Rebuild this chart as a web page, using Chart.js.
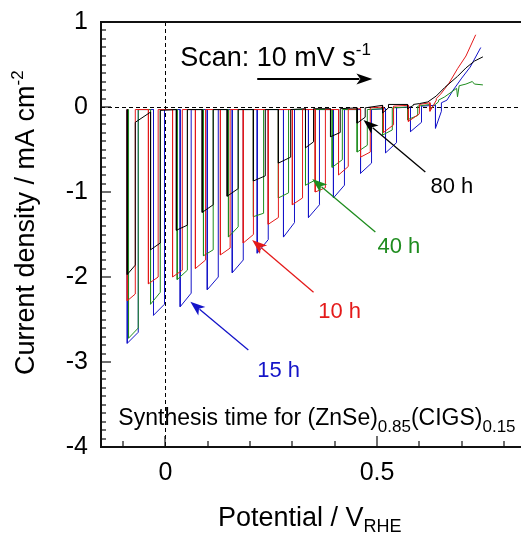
<!DOCTYPE html>
<html><head><meta charset="utf-8">
<script src="https://cdn.jsdelivr.net/npm/chart.js@4"></script>
<style>html,body{margin:0;padding:0;background:#fff;} #wrap{width:521px;height:534px;}</style>
</head><body><div id="wrap"><canvas id="c" width="521" height="534"></canvas></div>
<script>
// ---- tick labels ----
const xTickValues = [0, 0.5];
const yTickValues = [-4, -3, -2, -1, 0, 1];

// ---- 80 h (black): chopped-light segments ----
const h80_on   = [-0.090, -0.035, 0.026, 0.087, 0.146, 0.208, 0.267, 0.331, 0.390, 0.453, 0.513, 0.572];
const h80_off  = [-0.071, -0.012, 0.052, 0.113, 0.172, 0.236, 0.296, 0.350, 0.413, 0.472, 0.527, 0.586];
const h80_jOn  = [-1.97, -1.68, -1.45, -1.24, -1.05, -0.87, -0.66, -0.48, -0.35, -0.19, -0.07, -0.02];
const h80_jOff = [-1.86, -1.60, -1.39, -1.15, -0.96, -0.81, -0.59, -0.41, -0.30, -0.12, -0.01, 0.02];
const h80_dBefore = [-0.03, -0.06, -0.03, -0.03, -0.03, -0.03, -0.03, -0.02, -0.02, -0.01, 0.02, 0.03];
const h80_dAfter  = [-0.18, -0.04, -0.03, -0.03, -0.03, -0.03, -0.03, -0.02, -0.02, -0.01, 0.03, 0.03];
const h80_tailE = [0.60, 0.62, 0.64, 0.66, 0.69, 0.71, 0.73, 0.75];
const h80_tailJ = [0.04, 0.06, 0.13, 0.23, 0.36, 0.46, 0.54, 0.59];

// ---- 10 h (red) ----
const h10_on   = [-0.090, -0.040, 0.017, 0.071, 0.130, 0.184, 0.243, 0.300, 0.354, 0.409, 0.461, 0.515, 0.574, 0.625];
const h10_off  = [-0.071, -0.017, 0.040, 0.095, 0.153, 0.208, 0.267, 0.324, 0.378, 0.432, 0.484, 0.539, 0.600, 0.640];
const h10_jOn  = [-2.28, -2.08, -2.00, -1.90, -1.74, -1.60, -1.38, -1.15, -1.00, -0.80, -0.59, -0.30, -0.17, -0.05];
const h10_jOff = [-2.20, -2.00, -1.92, -1.80, -1.66, -1.50, -1.30, -1.07, -0.95, -0.70, -0.53, -0.21, -0.08, 0.08];
const h10_dBefore = [-0.03, -0.03, -0.03, -0.03, -0.03, -0.03, -0.03, -0.03, -0.03, -0.03, -0.02, 0.00, 0.02, 0.05];
const h10_dAfter  = [-0.03, -0.03, -0.03, -0.03, -0.03, -0.03, -0.03, -0.03, -0.03, -0.03, -0.01, 0.01, 0.03, 0.10];
const h10_tailE = [0.65, 0.67, 0.69, 0.71, 0.733];
const h10_tailJ = [0.15, 0.28, 0.45, 0.60, 0.85];

// ---- 40 h (green) ----
const h40_on   = [-0.087, -0.035, 0.028, 0.090, 0.149, 0.208, 0.267, 0.331, 0.394, 0.453, 0.513, 0.572, 0.625];
const h40_off  = [-0.064, -0.012, 0.052, 0.113, 0.172, 0.232, 0.291, 0.354, 0.418, 0.477, 0.536, 0.596, 0.645];
const h40_jOn  = [-2.72, -2.32, -2.03, -1.75, -1.53, -1.29, -1.07, -0.92, -0.71, -0.53, -0.33, -0.15, -0.02];
const h40_jOff = [-2.60, -2.18, -1.92, -1.68, -1.41, -1.25, -1.01, -0.86, -0.62, -0.45, -0.27, -0.10, 0.06];
const h40_dBefore = [-0.03, -0.03, -0.03, -0.03, -0.03, -0.03, -0.03, -0.03, -0.03, -0.03, -0.02, 0.00, 0.03];
const h40_dAfter  = [-0.03, -0.03, -0.03, -0.03, -0.03, -0.03, -0.03, -0.03, -0.03, -0.03, -0.01, 0.01, 0.08];
const h40_tailE = [0.66, 0.688, 0.69, 0.694, 0.71, 0.725, 0.73, 0.75];
const h40_tailJ = [0.12, 0.22, 0.12, 0.25, 0.27, 0.30, 0.27, 0.26];

// ---- 15 h (blue) ----
const h15_on   = [-0.090, -0.028, 0.035, 0.099, 0.158, 0.217, 0.279, 0.338, 0.397, 0.461, 0.520, 0.579, 0.638];
const h15_off  = [-0.064, -0.002, 0.061, 0.125, 0.184, 0.243, 0.305, 0.364, 0.423, 0.487, 0.546, 0.605, 0.652];
const h15_jOn  = [-2.78, -2.45, -2.35, -2.15, -1.95, -1.72, -1.53, -1.30, -1.07, -0.78, -0.54, -0.29, -0.25];
const h15_jOff = [-2.65, -2.32, -2.19, -2.00, -1.80, -1.56, -1.36, -1.15, -0.92, -0.66, -0.42, -0.18, -0.05];
const h15_dBefore = [-0.03, -0.03, -0.03, -0.03, -0.03, -0.03, -0.03, -0.03, -0.03, -0.03, -0.02, 0.00, 0.02];
const h15_dAfter  = [-0.03, -0.03, -0.03, -0.03, -0.03, -0.03, -0.03, -0.03, -0.03, -0.03, -0.01, 0.01, 0.05];
const h15_tailE = [0.665, 0.68, 0.70, 0.72, 0.745];
const h15_tailJ = [0.08, 0.20, 0.34, 0.47, 0.70];

function build(on, off, jOn, jOff, dBefore, dAfter, tE, tJ) {
  const pts = [];
  for (let i = 0; i < on.length; i++) {
    pts.push({x: on[i], y: dBefore[i]});
    pts.push({x: on[i], y: jOn[i]});
    pts.push({x: off[i], y: jOff[i]});
    pts.push({x: off[i], y: dAfter[i]});
  }
  for (let k = 0; k < tE.length; k++) pts.push({x: tE[k], y: tJ[k]});
  return pts;
}

const FONT = '"Liberation Sans", Arial, Helvetica, sans-serif';
const C_BLACK = '#000000', C_RED = '#e41a1a', C_GREEN = '#1e8c1e', C_BLUE = '#1414c8';

function runs(ctx, x, yb, parts, color) {
  ctx.fillStyle = color;
  ctx.textBaseline = 'alphabetic';
  ctx.textAlign = 'left';
  for (const [t, s, dy] of parts) {
    ctx.font = s + 'px ' + FONT;
    ctx.fillText(t, x, yb + dy);
    x += ctx.measureText(t).width;
  }
}
function arrow(ctx, x1, y1, x2, y2, color, lw, hl, hw) {
  const ang = Math.atan2(y2 - y1, x2 - x1);
  ctx.strokeStyle = color; ctx.fillStyle = color; ctx.lineWidth = lw;
  const bx = x2 - hl * Math.cos(ang), by = y2 - hl * Math.sin(ang);
  ctx.beginPath(); ctx.moveTo(x1, y1); ctx.lineTo(bx + 3 * Math.cos(ang), by + 3 * Math.sin(ang)); ctx.stroke();
  const nx = x2 - (hl * 0.75) * Math.cos(ang), ny = y2 - (hl * 0.75) * Math.sin(ang);
  ctx.beginPath();
  ctx.moveTo(x2, y2);
  ctx.lineTo(bx - hw * Math.sin(ang), by + hw * Math.cos(ang));
  ctx.lineTo(nx, ny);
  ctx.lineTo(bx + hw * Math.sin(ang), by - hw * Math.cos(ang));
  ctx.closePath(); ctx.fill();
}

function drawFrame(chart) {
  const ctx = chart.ctx;
  const x = chart.scales.x, y = chart.scales.y;
  const L = Math.round(x.getPixelForValue(x.min));
  const T = Math.round(y.getPixelForValue(y.max));
  const B = Math.round(y.getPixelForValue(y.min));
  const W = chart.width;
  ctx.save();
  ctx.fillStyle = '#111111';
  ctx.fillRect(L - 1, T - 1, W - L + 1, 2);     // top
  ctx.fillRect(L - 1, T - 1, 2, B - T + 2);     // left
  ctx.fillRect(L - 1, B - 1, W - L + 1, 2);     // bottom
  for (let v = -40; v <= 10; v++) {
    const py = Math.round(y.getPixelForValue(v / 10));
    const len = (v % 10 === 0) ? 10 : 5;
    ctx.fillRect(L, py - 0.6, len, 1.2);
  }
  for (let v = -1; v <= 8; v++) {
    const px = Math.round(x.getPixelForValue(v / 10));
    const len = (v % 5 === 0) ? 11 : 6;
    ctx.fillRect(px - 0.6, B - len, 1.2, len);
  }
  ctx.restore();
}

const deco = {
  id: 'deco',
  beforeDatasetsDraw(chart) {
    const {ctx, chartArea: a, scales: {x, y}} = chart;
    ctx.save();
    ctx.strokeStyle = '#000'; ctx.lineWidth = 1; ctx.setLineDash([4, 3]);
    const y0 = Math.round(y.getPixelForValue(0)) + 0.5;
    ctx.beginPath(); ctx.moveTo(a.left, y0); ctx.lineTo(a.right, y0); ctx.stroke();
    const x0 = Math.round(x.getPixelForValue(0)) + 0.5;
    ctx.beginPath(); ctx.moveTo(x0, a.top); ctx.lineTo(x0, a.bottom); ctx.stroke();
    ctx.setLineDash([]);
    ctx.restore();
  },
  afterDraw(chart) {
    const {ctx, scales: {x, y}} = chart;
    drawFrame(chart);
    ctx.save();
    const X = v => x.getPixelForValue(v), Y = v => y.getPixelForValue(v);
    runs(ctx, X(0.035), Y(0.48), [['Scan: 10 mV s', 27, 0], ['-1', 17, -11]], '#000');
    arrow(ctx, X(0.217), Y(0.33), X(0.489), Y(0.33), '#000', 2, 16, 5.5);
    runs(ctx, X(0.626), Y(-1.01), [['80 h', 22, 0]], C_BLACK);
    arrow(ctx, X(0.614), Y(-0.765), X(0.468), Y(-0.153), C_BLACK, 1.3, 15, 5.5);
    runs(ctx, X(0.501), Y(-1.72), [['40 h', 22, 0]], C_GREEN);
    arrow(ctx, X(0.496), Y(-1.47), X(0.347), Y(-0.847), C_GREEN, 1.3, 15, 5.5);
    runs(ctx, X(0.361), Y(-2.48), [['10 h', 22, 0]], C_RED);
    arrow(ctx, X(0.350), Y(-2.18), X(0.205), Y(-1.565), C_RED, 1.3, 15, 5.5);
    runs(ctx, X(0.217), Y(-3.18), [['15 h', 22, 0]], C_BLUE);
    arrow(ctx, X(0.196), Y(-2.86), X(0.059), Y(-2.29), C_BLUE, 1.3, 15, 5.5);
    runs(ctx, X(-0.111), Y(-3.74), [['Synthesis time for (ZnSe)', 23, 0], ['0.85', 17, 7], ['(CIGS)', 23, 0], ['0.15', 17, 7]], '#000');
    runs(ctx, 218, 526, [['Potential / V', 27, 0], ['RHE', 18, 6]], '#000');
    ctx.translate(34, 375);
    ctx.rotate(-Math.PI / 2);
    runs(ctx, 0, 0, [['Current density / mA cm', 27, 0], ['-2', 17, -11]], '#000');
    ctx.restore();
  }
};

const mk = (label, color, pts) => ({label, data: pts, borderColor: color, backgroundColor: color, borderWidth: 1, pointRadius: 0, tension: 0, fill: false});

new Chart(document.getElementById('c').getContext('2d'), {
  type: 'line',
  data: {
    datasets: [
      mk('80 h', C_BLACK, build(h80_on, h80_off, h80_jOn, h80_jOff, h80_dBefore, h80_dAfter, h80_tailE, h80_tailJ)),
      mk('10 h', C_RED, build(h10_on, h10_off, h10_jOn, h10_jOff, h10_dBefore, h10_dAfter, h10_tailE, h10_tailJ)),
      mk('40 h', C_GREEN, build(h40_on, h40_off, h40_jOn, h40_jOff, h40_dBefore, h40_dAfter, h40_tailE, h40_tailJ)),
      mk('15 h', C_BLUE, build(h15_on, h15_off, h15_jOn, h15_jOff, h15_dBefore, h15_dAfter, h15_tailE, h15_tailJ))
    ]
  },
  options: {
    responsive: false, animation: false, devicePixelRatio: 1,
    layout: {padding: {top: 22, left: 0, right: 0, bottom: 0}},
    plugins: {legend: {display: false}, tooltip: {enabled: false}},
    scales: {
      x: {
        type: 'linear', min: -0.152, max: 0.84,
        grid: {display: false, drawTicks: false}, border: {display: true, color: '#111', width: 2},
        afterBuildTicks: s => { s.ticks = xTickValues.map(v => ({value: v})); },
        afterFit: s => { s.height = 87; s.paddingLeft = 0; s.paddingRight = 0; },
        ticks: {font: {family: FONT, size: 25}, color: '#000', padding: 11, maxRotation: 0, autoSkip: false, callback: v => String(v)}
      },
      y: {
        type: 'linear', min: -4, max: 1,
        grid: {display: false, drawTicks: false}, border: {display: true, color: '#111', width: 2},
        afterBuildTicks: s => { s.ticks = yTickValues.map(v => ({value: v})); },
        afterFit: s => { s.width = 101; s.paddingTop = 0; s.paddingBottom = 0; },
        ticks: {font: {family: FONT, size: 25}, color: '#000', padding: 13, autoSkip: false, callback: v => String(v)}
      }
    }
  },
  plugins: [deco]
});
</script>
</body></html>
